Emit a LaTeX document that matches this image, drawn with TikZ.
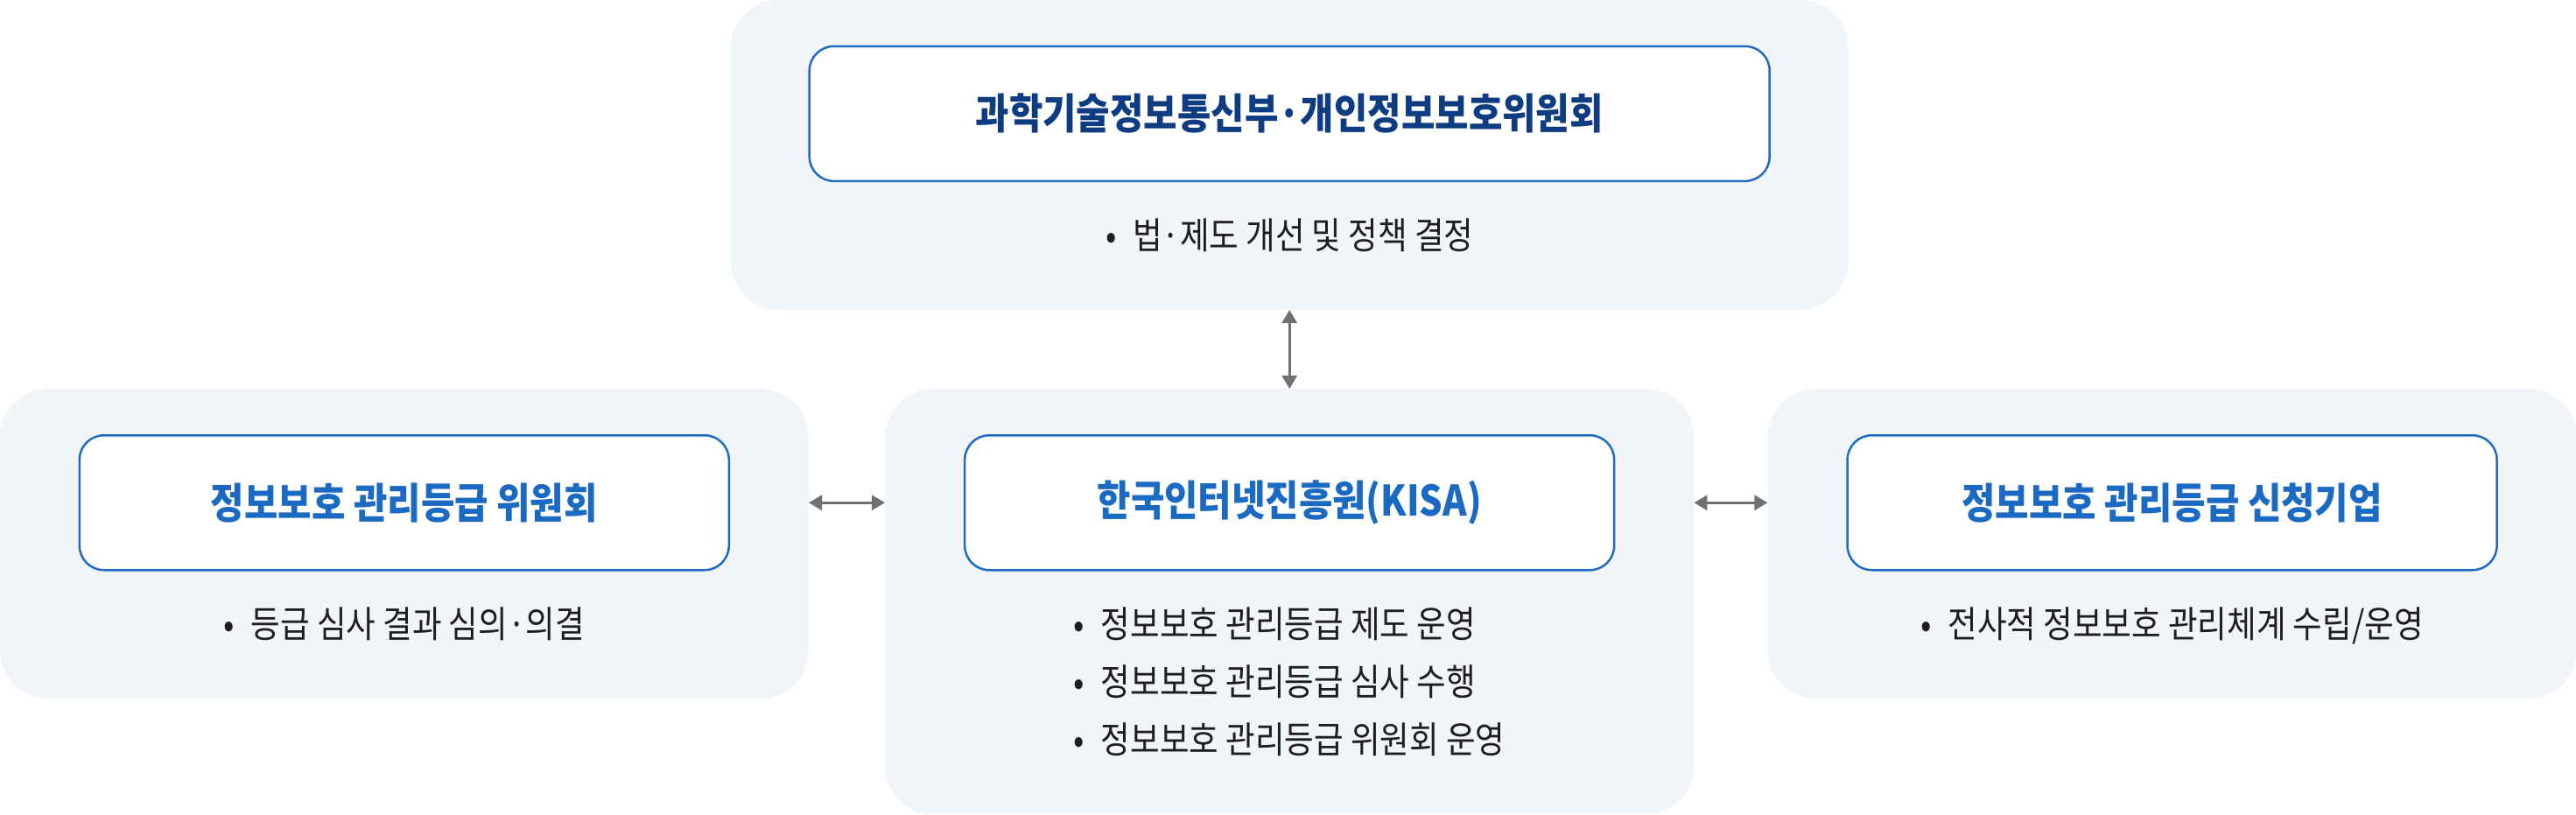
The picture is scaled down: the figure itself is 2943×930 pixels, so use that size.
\documentclass[tikz,border=0pt]{standalone}
\usepackage{fontspec}
\newfontfamily\krfont{Noto Sans CJK KR}[FakeStretch=0.87]
\usetikzlibrary{positioning,arrows.meta}

\definecolor{panelbg}{HTML}{F1F4F9}
\definecolor{boxblue}{HTML}{1F6CC4}
\definecolor{titleblue}{HTML}{1A6AC4}
\definecolor{titlenavy}{HTML}{0E3C82}
\definecolor{arrowgray}{HTML}{707070}
\definecolor{bodytext}{HTML}{1E1E1E}

\newcommand{\bul}{\makebox[31pt][l]{•}}

\begin{document}
\begin{tikzpicture}[x=1pt,y=1pt,
    panel/.style={fill=panelbg, rounded corners=55pt, minimum width=924pt, inner sep=0pt},
    titlebox/.style={draw=boxblue, line width=2.5pt, fill=white, rounded corners=28pt,
      minimum width=742pt, minimum height=154pt, text=titleblue,
      font=\krfont\bfseries\fontsize{48}{56}\selectfont},
    items/.style={inner sep=0pt, align=left, text=bodytext,
      font=\krfont\fontsize{42}{66}\selectfont},
    link/.style={{Triangle[length=15pt,width=17pt]}-{Triangle[length=15pt,width=17pt]},
      draw=arrowgray, line width=3pt}]
  \useasboundingbox (0,0) rectangle (2943,-930);

  % panels
  \node[panel, minimum height=486pt, anchor=north west] (kisa_panel) at (1011,-444) {};
  \node[panel, minimum height=354pt, anchor=north east] (cmte_panel) at ([xshift=-87pt]kisa_panel.north west) {};
  \node[panel, minimum height=354pt, anchor=north west] (firm_panel) at ([xshift=84pt]kisa_panel.north east) {};
  \node[panel, minimum width=1277pt, minimum height=354pt, anchor=south] (gov_panel) at ([yshift=90pt]kisa_panel.north) {};

  % titles
  \node[titlebox, minimum width=1097pt, text=titlenavy, below=52pt of gov_panel.north] (gov) {과학기술정보통신부·개인정보보호위원회};
  \node[titlebox, below=52pt of cmte_panel.north] (cmte) {정보보호 관리등급 위원회};
  \node[titlebox, below=52pt of kisa_panel.north] (kisa) {한국인터넷진흥원(KISA)};
  \node[titlebox, below=52pt of firm_panel.north] (firm) {정보보호 관리등급 신청기업};

  % tasks
  \node[items, below=41pt of gov.south] (gov_items) {\bul 법·제도 개선 및 정책 결정};
  \node[items, below=41pt of cmte.south] (cmte_items) {\bul 등급 심사 결과 심의·의결};
  \node[items, below=41pt of kisa.south] (kisa_items) {\bul 정보보호 관리등급 제도 운영\\
    \bul 정보보호 관리등급 심사 수행\\
    \bul 정보보호 관리등급 위원회 운영};
  \node[items, below=41pt of firm.south] (firm_items) {\bul 전사적 정보보호 관리체계 수립/운영};

  % links
  \draw[link] (gov_panel.south) -- (kisa_panel.north);
  \draw[link] (cmte_panel.east |- cmte) -- (kisa_panel.west |- cmte);
  \draw[link] (kisa_panel.east |- kisa) -- (firm_panel.west |- kisa);
\end{tikzpicture}
\end{document}
